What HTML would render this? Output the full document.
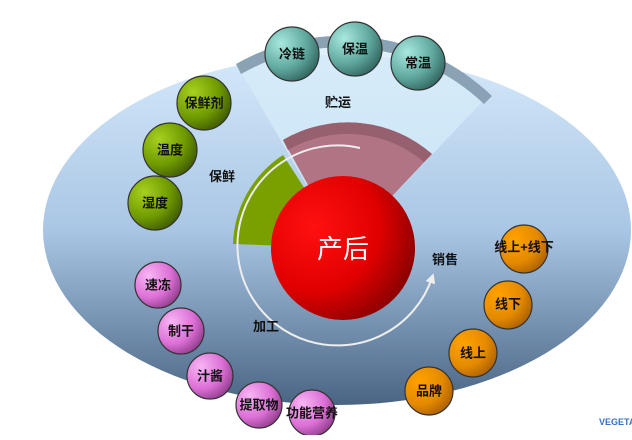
<!DOCTYPE html><html><head><meta charset="utf-8"><style>
body{margin:0;width:632px;height:435px;overflow:hidden;background:#fff}
text{font-family:"Liberation Sans","Noto Sans CJK SC",sans-serif;font-weight:bold;fill:#111}
</style></head><body>
<svg width="632" height="435" viewBox="0 0 632 435">
<defs>
<linearGradient id="bg" x1="0" y1="0" x2="0" y2="1"><stop offset="0" stop-color="#d4e8fa"/><stop offset="0.5" stop-color="#a9c6e4"/><stop offset="1" stop-color="#4a6584"/></linearGradient>
<radialGradient id="red" cx="0.3" cy="0.35" r="0.75"><stop offset="0" stop-color="#ff1010"/><stop offset="0.6" stop-color="#e00000"/><stop offset="1" stop-color="#8a0000"/></radialGradient>
<radialGradient id="teal" cx="0.3" cy="0.3" r="0.8"><stop offset="0" stop-color="#a8e8de"/><stop offset="0.6" stop-color="#5fa79e"/><stop offset="1" stop-color="#2f615b"/></radialGradient>
<radialGradient id="grn" cx="0.3" cy="0.3" r="0.8"><stop offset="0" stop-color="#a8d020"/><stop offset="0.6" stop-color="#6f9a00"/><stop offset="1" stop-color="#3d5600"/></radialGradient>
<radialGradient id="pnk" cx="0.3" cy="0.3" r="0.8"><stop offset="0" stop-color="#f8b6f4"/><stop offset="0.6" stop-color="#dc6fd6"/><stop offset="1" stop-color="#8c3a88"/></radialGradient>
<radialGradient id="org" cx="0.3" cy="0.3" r="0.8"><stop offset="0" stop-color="#ffa200"/><stop offset="0.6" stop-color="#e58a00"/><stop offset="1" stop-color="#a85f00"/></radialGradient>
<marker id="ar" markerWidth="5" markerHeight="5" refX="2.5" refY="2.5" orient="auto"><path d="M0,0 L5,2.5 L0,5 z" fill="#eee"/></marker>
</defs>
<ellipse cx="337" cy="230" rx="294" ry="175" fill="url(#bg)"/>
<path d="M343,248 L241,72 A205,205 0 0 1 484,100 Z" fill="#d6ecf9" opacity="0.75"/>
<path d="M236,64 A215,215 0 0 1 492,96 L484,104 A205,205 0 0 0 241,74 Z" fill="#8aa3b4"/>
<path d="M233,244 A110,110 0 0 1 283,155 L343,248 Z" fill="#7aa000"/>
<path d="M283,140 A128,128 0 0 1 432,154 L343,248 Z" fill="#b07484"/>
<path d="M283,140 A128,128 0 0 1 432,154 L424,162 A118,118 0 0 0 288,150 Z" fill="#97606e"/>
<path d="M360,148 A100,100 0 1 0 432,278" fill="none" stroke="#eee" stroke-width="2" marker-end="url(#ar)"/>
<circle cx="343" cy="248" r="72" fill="url(#red)"/>
<text x="343" y="251" font-size="26" text-anchor="middle" dominant-baseline="middle" style="fill:#fff;font-weight:normal">产后</text>
<g font-size="13" text-anchor="middle">
<text x="338" y="107">贮运</text><text x="222" y="181">保鲜</text><text x="266" y="331">加工</text><text x="445" y="264">销售</text>
</g>
<g stroke="#333" stroke-width="1.2">
<circle cx="292" cy="54" r="27" fill="url(#teal)"/><circle cx="355" cy="49" r="27" fill="url(#teal)"/><circle cx="418" cy="63" r="27" fill="url(#teal)"/>
<circle cx="204" cy="103" r="27" fill="url(#grn)"/><circle cx="170" cy="150" r="27" fill="url(#grn)"/><circle cx="155" cy="203" r="27" fill="url(#grn)"/>
<circle cx="158" cy="285" r="23" fill="url(#pnk)"/><circle cx="181" cy="331" r="23" fill="url(#pnk)"/><circle cx="210" cy="376" r="23" fill="url(#pnk)"/><circle cx="259" cy="405" r="23" fill="url(#pnk)"/><circle cx="312" cy="413" r="23" fill="url(#pnk)"/>
<circle cx="524" cy="249" r="24" fill="url(#org)"/><circle cx="508" cy="305" r="24" fill="url(#org)"/><circle cx="473" cy="353" r="24" fill="url(#org)"/><circle cx="429" cy="391" r="24" fill="url(#org)"/>
</g>
<g font-size="13" text-anchor="middle" dominant-baseline="middle">
<text x="292" y="55">冷链</text><text x="355" y="50">保温</text><text x="418" y="64">常温</text>
<text x="204" y="104">保鲜剂</text><text x="170" y="151">温度</text><text x="155" y="204">湿度</text>
<text x="158" y="286">速冻</text><text x="181" y="332">制干</text><text x="210" y="377">汁酱</text><text x="259" y="406">提取物</text><text x="312" y="414">功能营养</text>
<text x="524" y="248">线上+线下</text><text x="508" y="305">线下</text><text x="473" y="354">线上</text><text x="429" y="392">品牌</text>
</g>
<text x="599" y="425" font-size="9" style="fill:#3a6fc0">VEGETA</text>
</svg></body></html>
